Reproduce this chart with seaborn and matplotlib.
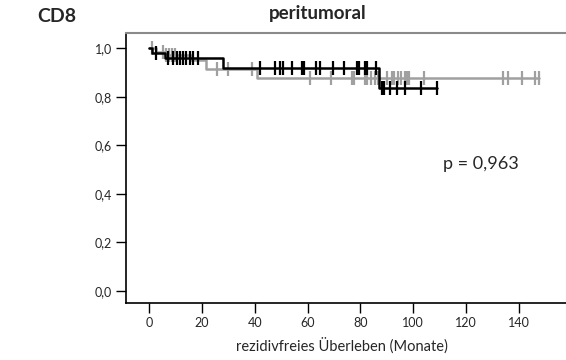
import numpy as np
import pandas as pd
import matplotlib
matplotlib.use("Agg")
import matplotlib.pyplot as plt
import seaborn as sns

# ---- data ----
# group 1 (black)
black_event_times = [1.0, 6.0, 28.0, 87.0]
black_surv = [0.979, 0.958, 0.918, 0.835]
black_censor = [2.6, 7.2, 9.0, 10.6, 11.7, 12.9, 14.0, 15.5, 16.6, 18.5,
                42.0, 47.7, 49.6, 50.7, 54.1, 57.9, 58.6, 63.2, 64.7, 69.6,
                73.8, 78.7, 79.5, 81.8, 82.5, 85.9,
                88.2, 88.9, 91.2, 93.8, 96.9, 102.9, 109.0]
# group 2 (gray)
gray_event_times = [2.5, 6.0, 16.0, 21.6, 41.0]
gray_surv = [0.985, 0.970, 0.951, 0.914, 0.877]
gray_censor = [1.1, 5.3, 6.6, 7.6, 8.7, 9.8, 25.7, 29.9, 39.0,
               60.9, 68.9, 76.8, 77.6, 81.7, 82.5, 84.0, 85.5, 86.6, 90.0,
               91.9, 92.7, 94.2, 95.3, 96.9, 97.6, 98.5, 104.0, 133.9, 135.8,
               141.1, 146.0, 147.5]

xticks = [0, 20, 40, 60, 80, 100, 120, 140]
yticks = [0.0, 0.2, 0.4, 0.6, 0.8, 1.0]
ytick_labels = ["0,0", "0,2", "0,4", "0,6", "0,8", "1,0"]
title = "peritumoral"
panel_label = "CD8"
xlabel = "rezidivfreies Überleben (Monate)"
p_text = "p = 0,963"

sns.set_style("white")
plt.rcParams["font.family"] = ["Lato", "DejaVu Sans"]

fig = plt.figure(figsize=(5.66, 3.60), dpi=100)
ax = fig.add_axes([126/566, 1-303/360, 440/566, 270/360])


def km_frame(event_t, surv, censor):
    t = [0.0] + list(event_t) + [max(censor)]
    s = [1.0] + list(surv) + [surv[-1]]
    return pd.DataFrame({"t": t, "s": s})


def surv_at(event_t, surv, times):
    idx = np.searchsorted(np.asarray(event_t), np.asarray(times), side="right")
    levels = np.concatenate([[1.0], surv])
    return levels[idx]


groups = [
    (gray_event_times, gray_surv, gray_censor, "#a0a0a0"),
    (black_event_times, black_surv, black_censor, "#000000"),
]
for ev, sv, cen, col in groups:
    df = km_frame(ev, sv, cen)
    sns.lineplot(data=df, x="t", y="s", ax=ax, color=col, lw=1.8,
                 drawstyle="steps-post", estimator=None, sort=False)
    ax.plot(cen, surv_at(ev, sv, cen), linestyle="none", marker="|",
            ms=10, mew=1.6, color=col)

ax.set_xlim(-8.7, 157.8)
ax.set_ylim(-0.049, 1.062)
ax.set_xticks(xticks)
ax.set_xticklabels([str(v) for v in xticks])
ax.set_yticks(yticks)
ax.set_yticklabels(ytick_labels)
ax.tick_params(axis="both", direction="out", length=7, width=1, color="black",
               labelsize=9, pad=3, bottom=True, left=True)

for side in ["left", "bottom"]:
    ax.spines[side].set_color("black")
    ax.spines[side].set_linewidth(1.2)
ax.spines["top"].set_color("#8a8a8a")
ax.spines["top"].set_linewidth(1.5)
ax.spines["right"].set_visible(False)

ax.set_xlabel(xlabel, fontsize=10.5)
ax.set_ylabel("")
ax.xaxis.label.set_va("center")
ax.xaxis.set_label_coords((342-126)/440, (303-346)/270)

ax.text(111.2, 0.523, p_text, fontsize=13, ha="left", va="center")

fig.text(318/566, 1-14/360, title, fontsize=13.5, fontweight="bold",
         ha="center", va="center")
fig.text(37/566, 1-17/360, panel_label, fontsize=14, fontweight="bold",
         ha="left", va="center")

fig.savefig("out.png", dpi=100)
